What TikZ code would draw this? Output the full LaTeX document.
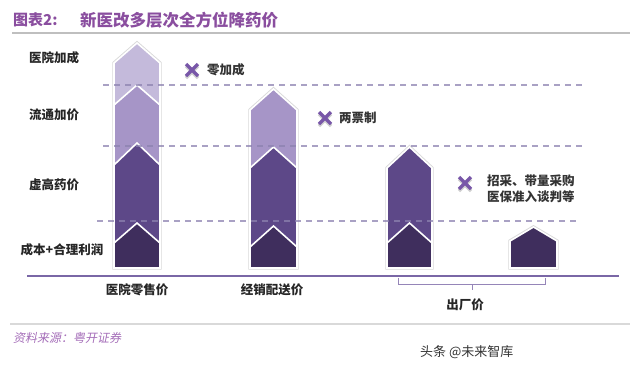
\documentclass[tikz,border=0pt]{standalone}
\usepackage{fontspec}
\setmainfont{Noto Sans CJK SC}
\newfontfamily\slantfont[FakeSlant=0.2]{Noto Sans CJK SC}

\definecolor{segA}{HTML}{C4BADB}
\definecolor{segB}{HTML}{A695C7}
\definecolor{segC}{HTML}{5D4888}
\definecolor{segD}{HTML}{3F2E5D}
\definecolor{titlepurple}{HTML}{8A4E9F}
\definecolor{srcpurple}{HTML}{A46DB8}
\definecolor{xpurple}{HTML}{7857A8}
\definecolor{dashcol}{HTML}{8C82B0}
\definecolor{basecol}{HTML}{7A67A6}

% one chevron block: x1, x2, tip, shoulder, bottom, colour
\newcommand{\chevseg}[6]{%
	\filldraw[fill=#6, draw=white, line width=1.6pt] (#1,#5) -- (#1,#4) -- ({(#1+#2)/2},#3) -- (#2,#4) -- (#2,#5) -- cycle;}
\newcommand{\chevshade}[5]{%
	\draw[black!15, line width=3.4pt] (#1,#5) -- (#1,#4) -- ({(#1+#2)/2},#3) -- (#2,#4) -- (#2,#5) -- cycle;}
\newcommand{\crossmark}[2]{%
	\draw[black!18, line width=3.2pt] (#1-6,#2-4) -- (#1+6,#2+8) (#1-6,#2+8) -- (#1+6,#2-4);
	\draw[xpurple, line width=3.2pt] (#1-6,#2-6) -- (#1+6,#2+6) (#1-6,#2+6) -- (#1+6,#2-6);}

\begin{document}
\begin{tikzpicture}[x=1pt, y=-1pt,
	lbl/.style={font=\fontsize{12.5}{14}\selectfont\bfseries, text=black!85, inner sep=0pt},
	note/.style={font=\fontsize{12.5}{16}\selectfont\bfseries, text=black!80, inner sep=0pt, anchor=west, align=left},
	guide/.style={dashcol, line width=1.6pt, dash pattern=on 6pt off 5pt, opacity=0.75}]
	\useasboundingbox (0,0) rectangle (640,368);

	\node[anchor=west, inner sep=0pt, text=titlepurple, font=\fontsize{15}{16}\selectfont\bfseries] (tag) at (13,20) {图表2:};
	\node[anchor=west, inner sep=0pt, text=titlepurple, font=\fontsize{16.5}{18}\selectfont\bfseries] (title) at (80,20) {新医改多层次全方位降药价};
	\draw[black!25, line width=1.5pt] (12,33) -- (630,33);

	\node[lbl] (markup) at (54,58) {医院加成};
	\node[lbl] (circ) at (54,115) {流通加价};
	\node[lbl] (inflate) at (54,185) {虚高药价};
	\node[lbl] (cost) at (62,250) {成本+合理利润};

	\chevshade{114}{160}{43}{63}{268}
	\foreach \t/\s/\c in {43/63/segA, 85/105/segB, 143/165/segC, 223/243/segD}
		{\chevseg{114}{160}{\t}{\s}{268}{\c}}

	\chevshade{250}{297}{89}{110}{268}
	\foreach \t/\s/\c in {89/110/segB, 147/168/segC, 226/247/segD}
		{\chevseg{250}{297}{\t}{\s}{268}{\c}}

	\chevshade{387}{432}{147}{168}{268}
	\foreach \t/\s/\c in {147/168/segC, 223/243/segD}
		{\chevseg{387}{432}{\t}{\s}{268}{\c}}

	\chevshade{510}{557}{227}{241}{268}
	\chevseg{510}{557}{227}{241}{268}{segD}

	\draw[guide] (103,85) -- (585,85);
	\draw[guide] (103,146) -- (585,146);
	\draw[guide] (97,221) -- (580,221);

	\draw[basecol, line width=1.6pt] (27,276) -- (619,276);
	\draw[basecol!80, line width=1pt] (398,278) -- (398,284) -- (545,284) -- (545,278);
	\draw[basecol!80, line width=1pt] (472,284) -- (472,290);

	\crossmark{192}{70}
	\node[note] (zero) at (207,70) {零加成};
	\crossmark{325}{118}
	\node[note] (twoinv) at (339,118) {两票制};
	\crossmark{465}{183}
	\node[note] (vbp) at (487,189) {招采、带量采购\\医保准入谈判等};

	\node[lbl] (hosp) at (137,290) {医院零售价};
	\node[lbl] (dist) at (272,290) {经销配送价};
	\node[lbl] (factory) at (465,305) {出厂价};

	\draw[black!15, line width=1.5pt] (10,324) -- (630,324);
	\node[anchor=west, inner sep=0pt, text=srcpurple, font=\fontsize{12}{14}\selectfont\slantfont] (source) at (13,338) {资料来源：粤开证券};
	\node[anchor=west, inner sep=0pt, text=black!80, font=\fontsize{13}{15}\selectfont] (mark) at (420,352) {头条 @未来智库};
\end{tikzpicture}
\end{document}
